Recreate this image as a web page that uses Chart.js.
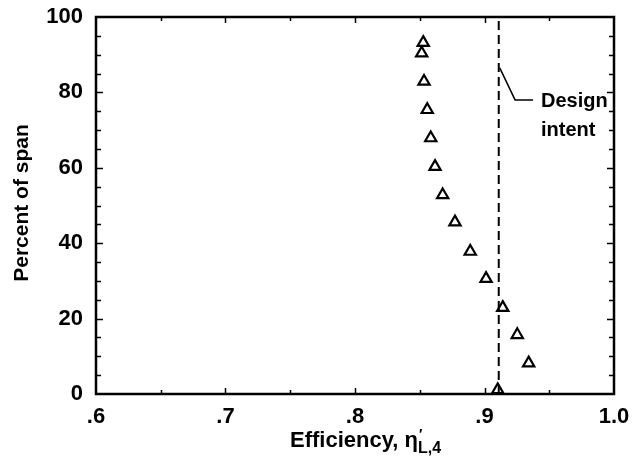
<!DOCTYPE html>
<html>
<head>
<meta charset="utf-8">
<script src="https://cdn.jsdelivr.net/npm/chart.js@4.4.1/dist/chart.umd.min.js"></script>
<style>
  html, body { margin: 0; padding: 0; background: #fff; }
  #wrap { width: 632px; height: 464px; }
</style>
</head>
<body>
<div id="wrap"><canvas id="c" width="632" height="464"></canvas></div>
<script>
// Measured efficiency along the blade span
const efficiency = [0.8527, 0.8515, 0.8533, 0.8558, 0.8585, 0.8618, 0.8677, 0.8772, 0.8890, 0.9012, 0.9141, 0.9253, 0.9341, 0.9102];
const spanPercent = [93.2, 90.4, 82.9, 75.4, 67.9, 60.3, 52.8, 45.6, 37.8, 30.6, 22.9, 15.7, 8.2, 1.1];

// Design intent efficiency (vertical reference line)
const designIntent = 0.911;
const designLabel = ["Design", "intent"];

const xTicks = [0.6, 0.7, 0.8, 0.9, 1.0];
const yTicks = [0, 20, 40, 60, 80, 100];

const FONT = '"Liberation Sans", Arial, Helvetica, sans-serif';

const framePlugin = {
  id: 'frame',
  afterDatasetsDraw(chart) {
    const { ctx, chartArea: a, scales: { x, y } } = chart;
    ctx.save();
    ctx.strokeStyle = '#000';

    // design intent dashed line
    const dx = x.getPixelForValue(designIntent);
    ctx.lineWidth = 2;
    ctx.setLineDash([9, 5]);
    ctx.beginPath();
    ctx.moveTo(dx, a.top + 4);
    ctx.lineTo(dx, a.bottom);
    ctx.stroke();
    ctx.setLineDash([]);

    // leader to the label
    ctx.lineWidth = 1.5;
    ctx.beginPath();
    ctx.moveTo(dx + 1, y.getPixelForValue(86.5));
    ctx.lineTo(x.getPixelForValue(0.9236), y.getPixelForValue(78.0));
    ctx.lineTo(x.getPixelForValue(0.9375), y.getPixelForValue(78.0));
    ctx.stroke();

    ctx.fillStyle = '#000';
    ctx.font = 'bold 20px ' + FONT;
    ctx.textAlign = 'left';
    ctx.textBaseline = 'middle';
    ctx.fillText(designLabel[0], x.getPixelForValue(0.9436), y.getPixelForValue(77.5));
    ctx.fillText(designLabel[1], x.getPixelForValue(0.9436), y.getPixelForValue(70.0));

    // frame
    ctx.lineWidth = 2.5;
    ctx.strokeRect(a.left, a.top, a.right - a.left, a.bottom - a.top);

    // inward ticks: long at labelled values, short in between
    ctx.lineWidth = 1.5;
    ctx.beginPath();
    for (let k = 1; k < 8; k++) {
      const v = 0.6 + k * 0.05;
      const len = k % 2 === 0 ? 6 : 4;
      const px = Math.round(x.getPixelForValue(v)) + 0.5;
      ctx.moveTo(px, a.bottom); ctx.lineTo(px, a.bottom - len);
      ctx.moveTo(px, a.top); ctx.lineTo(px, a.top + len);
    }
    for (let v = 5; v < 100; v += 5) {
      const len = v % 20 === 0 ? 7 : 5;
      const py = Math.round(y.getPixelForValue(v)) + 0.5;
      ctx.moveTo(a.left, py); ctx.lineTo(a.left + len, py);
      ctx.moveTo(a.right, py); ctx.lineTo(a.right - len, py);
    }
    ctx.stroke();

    // axis titles
    ctx.font = 'bold 21px ' + FONT;
    ctx.textAlign = 'center';
    ctx.textBaseline = 'middle';
    ctx.save();
    ctx.translate(22, 203);
    ctx.rotate(-Math.PI / 2);
    ctx.fillText('Percent of span', 0, 0);
    ctx.restore();

    // x title with symbol, prime and subscript
    const main = 'Efficiency, η';
    const sub = 'L,4';
    ctx.font = 'bold 22px ' + FONT;
    const wMain = ctx.measureText(main).width;
    const startX = 290;
    const baseY = 447;
    ctx.textAlign = 'left';
    ctx.textBaseline = 'alphabetic';
    ctx.fillText(main, startX, baseY);
    ctx.font = 'bold 14px ' + FONT;
    ctx.fillText('\u2032', startX + wMain + 1, baseY - 8);
    ctx.font = 'bold 16px ' + FONT;
    ctx.fillText(sub, startX + wMain, baseY + 6);
    ctx.restore();
  }
};

new Chart(document.getElementById('c'), {
  type: 'scatter',
  data: {
    datasets: [{
      data: efficiency.map((v, i) => ({ x: v, y: spanPercent[i] })),
      pointStyle: 'triangle',
      pointRadius: 6.5,
      pointBorderWidth: 2.2,
      pointBackgroundColor: '#fff',
      pointBorderColor: '#000'
    }]
  },
  options: {
    responsive: false,
    animation: false,
    devicePixelRatio: 1,
    layout: { padding: { left: 0, right: 18, top: 17, bottom: 0 } },
    plugins: { legend: { display: false }, tooltip: { enabled: false } },
    scales: {
      x: {
        type: 'linear', min: 0.6, max: 1.0,
        afterFit(s) { s.height = 70; s.paddingLeft = 0; s.paddingRight = 0; },
        afterBuildTicks(s) { s.ticks = xTicks.map(v => ({ value: v })); },
        grid: { display: false, drawTicks: false },
        border: { display: false },
        ticks: {
          padding: 10,
          color: '#000',
          font: { family: FONT, size: 22, weight: 'bold' },
          callback: v => (v >= 1 ? v.toFixed(1) : v.toFixed(1).replace(/^0/, ''))
        }
      },
      y: {
        type: 'linear', min: 0, max: 100,
        afterFit(s) { s.width = 96; s.paddingTop = 0; s.paddingBottom = 0; },
        afterBuildTicks(s) { s.ticks = yTicks.map(v => ({ value: v })); },
        grid: { display: false, drawTicks: false },
        border: { display: false },
        ticks: {
          padding: 13,
          color: '#000',
          font: { family: FONT, size: 22, weight: 'bold' }
        }
      }
    }
  },
  plugins: [framePlugin]
});
</script>
</body>
</html>
